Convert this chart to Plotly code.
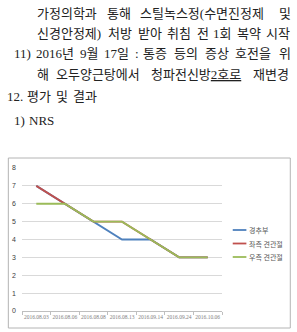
import plotly.graph_objects as go

# ---- data ----
dates = ["2016.08.03", "2016.08.06", "2016.08.08", "2016.08.13",
         "2016.09.14", "2016.09.24", "2016.10.06"]
series_names = ["경추부", "좌측 견관절", "우측 견관절"]
neck = [7, 6, 5, 4, 4, 3, 3]
left_shoulder = [7, 6, 5, 5, 4, 3, 3]
right_shoulder = [6, 6, 5, 5, 4, 3, 3]
y_ticks = [0, 1, 2, 3, 4, 5, 6, 7, 8]

text_lines = [
    "가정의학과 통해 스틸녹스정(수면진정제 및",
    "신경안정제) 처방 받아 취침 전 1회 복약 시작",
    "11) 2016년 9월 17일 : 통증 등의 증상 호전을 위",
    "해 오두양근탕에서 청파전신방<u>2호로</u> 재변경",
    "12. 평가 및 결과",
    "1) NRS",
]

colors = ["#4F81BD", "#C0504D", "#9BBB59"]

W, H = 297, 332
L, R, T, B = 17, 75, 168, 21
PW, PH = W - L - R, H - T - B


def px(x):
    return (x - L) / PW


def py(y):
    return (H - B - y) / PH


fig = go.Figure()
for name, vals, c in zip(series_names, [neck, left_shoulder, right_shoulder], colors):
    fig.add_trace(go.Scatter(x=dates, y=vals, mode="lines", name=name,
                             line=dict(color=c, width=1.8), showlegend=False))

# ---- text block above chart (justified word by word) ----
TFONT = "Liberation Serif, Noto Sans CJK KR"
TSIZE = 13
line_layout = [  # (left px, right px or None, center y px)
    (30, 291, 13),
    (30, 291, 33),
    (7, 291, 53),
    (30, 291, 74),
    (0, None, 96),
    (7, None, 120),
]


def est_width(word):
    import re
    w = re.sub(r"<[^>]+>", "", word)
    tot = 0.0
    for ch in w:
        if "\uac00" <= ch <= "\ud7a3":
            tot += 1.0
        elif ch.isdigit():
            tot += 0.5
        elif ch in "()":
            tot += 0.333
        elif ch in ":.":
            tot += 0.27
        elif ch.isupper():
            tot += 0.66
        else:
            tot += 0.5
    return tot * TSIZE


annotations = []
for line, (x0, x1, yc) in zip(text_lines, line_layout):
    words = line.split(" ")
    if x1 is None or len(words) == 1:
        gap = 0.3 * TSIZE
    else:
        total = sum(est_width(w) for w in words)
        gap = (x1 - x0 - total) / (len(words) - 1)
    x = x0
    for w in words:
        annotations.append(dict(text=w, x=px(x), y=py(yc), xref="paper", yref="paper",
                                xanchor="left", yanchor="middle", showarrow=False,
                                font=dict(family=TFONT, size=TSIZE, color="#222222")))
        x += est_width(w) + gap

# ---- manual legend ----
shapes = [dict(type="rect", xref="paper", yref="paper",
               x0=px(3), x1=px(292), y0=py(158), y1=py(328),
               line=dict(color="#B4B4B4", width=1))]
for i, (name, c) in enumerate(zip(series_names, colors)):
    yy = 230 + i * 13.5
    shapes.append(dict(type="line", xref="paper", yref="paper",
                       x0=px(233), x1=px(247), y0=py(yy), y1=py(yy),
                       line=dict(color=c, width=1.8)))
    annotations.append(dict(text=name, x=px(248), y=py(yy), xref="paper", yref="paper",
                            xanchor="left", yanchor="middle", showarrow=False,
                            font=dict(family="Noto Sans CJK KR", size=7, color="#595959")))

fig.update_layout(
    width=W, height=H,
    margin=dict(l=L, r=R, t=T, b=B, pad=0),
    paper_bgcolor="white", plot_bgcolor="white",
    showlegend=False,
    shapes=shapes,
    annotations=annotations,
    xaxis=dict(type="category", range=[-0.5, 6.5], showgrid=False,
               showline=True, linecolor="#BFBFBF", linewidth=1,
               ticks="outside", tickson="boundaries", ticklen=3, tickcolor="#BFBFBF",
               tickfont=dict(family="Liberation Serif", size=5.5, color="#7F7F7F"),
               tickangle=0, fixedrange=True),
    yaxis=dict(range=[0, 8], tickvals=y_ticks, showgrid=True, gridcolor="#D9D9D9",
               gridwidth=1, zeroline=False, showline=False, ticks="",
               tickfont=dict(family="Liberation Sans", size=7, color="#404040"),
               ticklabelstandoff=5, fixedrange=True),
)

fig.write_html("out.html")
